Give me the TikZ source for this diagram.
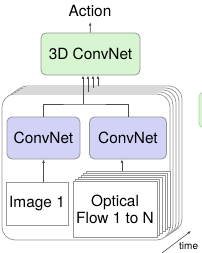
\documentclass[tikz,border=0pt]{standalone}
\usepackage{fontspec}
\setmainfont{TeX Gyre Heros}
\usetikzlibrary{arrows.meta}
\definecolor{netgreen}{RGB}{214,245,208}
\definecolor{netblue}{RGB}{210,210,247}
\definecolor{edgegray}{RGB}{150,150,150}
\definecolor{edgegreen}{RGB}{165,220,160}
\tikzset{
  box/.style={draw=edgegray, line width=0.8pt, inner sep=0pt, align=center,
    font=\fontsize{15.4}{17}\selectfont},
  greenbox/.style={box, fill=netgreen, rounded corners=5pt},
  bluebox/.style={box, fill=netblue, rounded corners=5pt},
  sheet/.style={draw=edgegray, line width=0.7pt, fill=white, rounded corners=13pt, inner sep=0pt},
  page/.style={box, fill=white},
  wire/.style={line width=0.8pt, draw=black!70},
  arr/.style={wire, -{Latex[length=3.5pt,width=2.8pt]}},
}
\begin{document}
\begin{tikzpicture}[x=1pt,y=-1pt]
  \useasboundingbox (0,0) rectangle (201,253);
  % stacked frames, back to front
  \foreach \k in {4,3,2,1,0}
    \node[sheet, minimum width=168pt, minimum height=146pt] (frame\k) at ({86+3*\k},{167-2*\k}) {};
  % next model, cut off at the right
  \node[greenbox, draw=edgegreen, minimum width=40pt, minimum height=36pt] (next) at (219,110) {};
  % optical flow pages
  \foreach \k in {5,4,3,2,1}
    \node[page, minimum width=84pt, minimum height=56pt] (flow\k) at ({115+2.7*\k},{209-2*\k}) {};
  \node[page, minimum width=84pt, minimum height=56pt] (flow) at (115,209) {Optical\\Flow 1 to N};
  \node[page, minimum width=62pt, minimum height=43pt] (img) at (37,203.5) {Image 1};
  \node[bluebox, minimum width=73pt, minimum height=42pt] (cnnA) at (43.5,138) {ConvNet};
  \node[bluebox, minimum width=77pt, minimum height=42pt] (cnnB) at (128,138) {ConvNet};
  \node[greenbox, minimum width=99pt, minimum height=42pt] (net3d) at (90.5,54) {3D ConvNet};
  \node[box, draw=none, inner xsep=0pt, inner ysep=5pt] (act) at (90,11) {Action};

  \draw[arr] (cnnA.south |- img.north) -- (cnnA.south);
  \draw[arr] (122,0 |- flow5.north) -- (122,0 |- cnnB.south);
  \coordinate (join) at (83,104);
  \draw[wire] (cnnA.north) |- (join) -| (cnnB.north);
  \draw[arr] (join) -- (join |- net3d.south);
  \draw[arr] (88,0 |- frame1.north) -- (88,0 |- net3d.south);
  \draw[arr] (93,0 |- frame3.north) -- (93,0 |- net3d.south);
  \draw[arr] (98,0 |- frame4.north) -- (98,0 |- net3d.south);
  \draw[arr] (net3d) -- (act);

  % time axis
  \coordinate (t0) at (162,253);
  \coordinate (t1) at (191,231);
  \draw[arr, line width=0.6pt] (t0) -- (t1);
  \node[anchor=west, inner sep=0pt, font=\fontsize{10}{12}\selectfont] (timelbl) at (179,246.5) {time};
\end{tikzpicture}
\end{document}
